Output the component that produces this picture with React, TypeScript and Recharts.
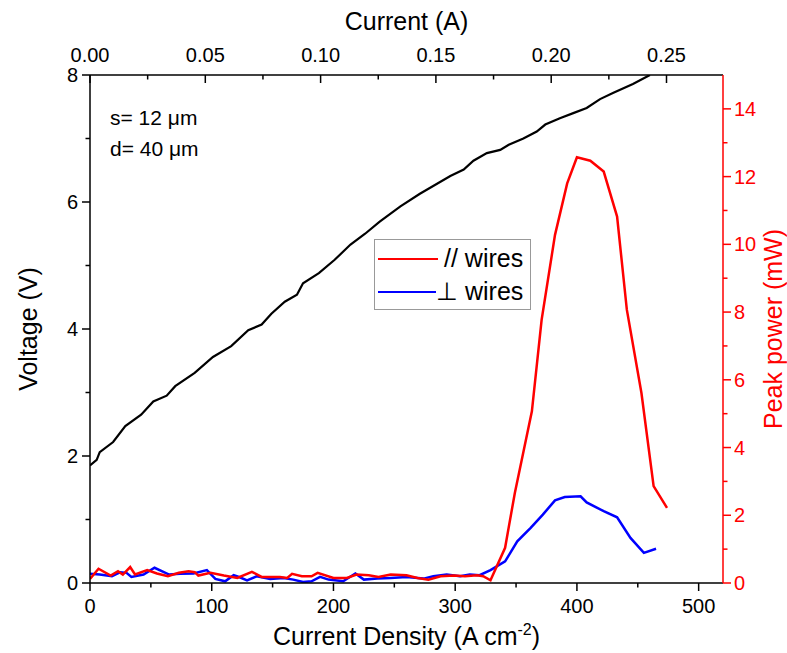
import React from 'react';
import { LineChart, Line, XAxis, YAxis, Legend } from 'recharts';

// Voltage vs current density (black, left axis)
const voltJ = [0, 5.5, 8, 19, 29, 42, 52, 63, 70, 86, 101, 116, 130, 141, 149, 160, 170, 175, 188, 201, 214, 226, 238, 255, 271, 296, 307, 315, 326, 337, 344, 356, 367, 374, 386, 397, 408, 419, 430, 446, 460];
const voltV = [1.85, 1.94, 2.06, 2.22, 2.47, 2.65, 2.86, 2.95, 3.1, 3.31, 3.56, 3.73, 3.98, 4.07, 4.24, 4.43, 4.54, 4.72, 4.88, 5.09, 5.33, 5.5, 5.69, 5.93, 6.13, 6.41, 6.51, 6.65, 6.77, 6.82, 6.9, 7.0, 7.11, 7.22, 7.32, 7.4, 7.48, 7.62, 7.72, 7.86, 8.0];

// Peak power, // wires (red, right axis)
const parJ = [0, 7, 17, 23, 27, 33, 37, 47, 55, 64, 73, 81, 86, 89, 99, 110, 121, 133, 141, 156, 162, 166, 174, 182, 187, 200, 211, 219, 229, 237, 247, 260, 269, 278, 288, 299, 308, 318, 323, 329, 341, 349, 363, 371, 382, 392, 400, 411, 422, 433, 441, 453, 463, 474];
const parP = [0.12, 0.42, 0.22, 0.35, 0.25, 0.47, 0.25, 0.38, 0.28, 0.2, 0.3, 0.35, 0.32, 0.22, 0.3, 0.22, 0.15, 0.33, 0.18, 0.18, 0.15, 0.27, 0.2, 0.2, 0.3, 0.15, 0.15, 0.25, 0.23, 0.18, 0.25, 0.23, 0.15, 0.1, 0.2, 0.22, 0.2, 0.23, 0.2, 0.08, 1.04, 2.66, 5.07, 7.77, 10.28, 11.8, 12.57, 12.47, 12.15, 10.82, 8.07, 5.61, 2.86, 2.22];

// Peak power, ⊥ wires (blue, right axis)
const perpJ = [0, 8, 18, 25, 30, 34, 44, 53, 65, 74, 85, 96, 103, 111, 118, 123, 129, 137, 148, 159, 167, 175, 182, 189, 196, 208, 218, 225, 236, 247, 260, 274, 282, 293, 304, 312, 320, 329, 341, 351, 362, 372, 382, 390, 403, 408, 422, 433, 444, 455, 465];
const perpP = [0.27, 0.25, 0.2, 0.32, 0.3, 0.18, 0.25, 0.45, 0.25, 0.27, 0.28, 0.38, 0.12, 0.05, 0.23, 0.17, 0.08, 0.2, 0.12, 0.15, 0.1, 0.03, 0.05, 0.18, 0.1, 0.05, 0.28, 0.1, 0.13, 0.15, 0.18, 0.13, 0.2, 0.25, 0.2, 0.25, 0.23, 0.38, 0.64, 1.23, 1.63, 2.02, 2.44, 2.54, 2.56, 2.38, 2.12, 1.94, 1.33, 0.89, 1.01];

const densityTicks = [0, 50, 100, 150, 200, 250, 300, 350, 400, 450, 500];
const currentTicks = [0, 0.025, 0.05, 0.075, 0.1, 0.125, 0.15, 0.175, 0.2, 0.225, 0.25];
const voltTicks = [0, 1, 2, 3, 4, 5, 6, 7, 8];
const powerTicks = [0, 1, 2, 3, 4, 5, 6, 7, 8, 9, 10, 11, 12, 13, 14];

const voltData = voltJ.map((j, i) => ({ j, v: voltV[i] }));
const parData = parJ.map((j, i) => ({ j, p: parP[i] }));
const perpData = perpJ.map((j, i) => ({ j, p: perpP[i] }));

const FONT = '"Liberation Sans", Arial, sans-serif';
const RED = '#ff0000';
const BLUE = '#0000ff';
const MAJOR = 8;
const MINOR = 4.5;
const TICK_FS = 20;
const TITLE_FS = 25;

const BottomTick = (props: any) => {
  const { x, y, payload } = props;
  const major = payload.value % 100 === 0;
  return (
    <g>
      <line x1={x} x2={x} y1={y} y2={y + (major ? MAJOR : MINOR)} stroke="#000" strokeWidth={1.5} />
      {major && <text x={x} y={y + 30} textAnchor="middle" fontSize={TICK_FS} fontFamily={FONT} fill="#000">{payload.value}</text>}
    </g>
  );
};

const TopTick = (props: any) => {
  const { x, y, payload, index } = props;
  const major = index % 2 === 0;
  return (
    <g>
      <line x1={x} x2={x} y1={y} y2={y + (major ? MAJOR : MINOR)} stroke="#000" strokeWidth={1.5} />
      {major && <text x={x} y={y - 13} textAnchor="middle" fontSize={TICK_FS} fontFamily={FONT} fill="#000">{payload.value.toFixed(2)}</text>}
    </g>
  );
};

const LeftTick = (props: any) => {
  const { x, y, payload } = props;
  const major = payload.value % 2 === 0;
  return (
    <g>
      <line x1={x - (major ? MAJOR : MINOR)} x2={x} y1={y} y2={y} stroke="#000" strokeWidth={1.5} />
      {major && <text x={x - 12} y={y + 7} textAnchor="end" fontSize={TICK_FS} fontFamily={FONT} fill="#000">{payload.value}</text>}
    </g>
  );
};

const RightTick = (props: any) => {
  const { x, y, payload } = props;
  const major = payload.value % 2 === 0;
  return (
    <g>
      <line x1={x} x2={x + (major ? MAJOR : MINOR)} y1={y} y2={y} stroke={RED} strokeWidth={1.5} />
      {major && <text x={x + 11} y={y + 7} textAnchor="start" fontSize={TICK_FS} fontFamily={FONT} fill={RED}>{payload.value}</text>}
    </g>
  );
};

const BottomTitle = (props: any) => {
  const { viewBox } = props;
  const cx = viewBox.x + viewBox.width / 2;
  return (
    <text x={cx} y={645} textAnchor="middle" fontSize={TITLE_FS} fontFamily={FONT} fill="#000">
      Current Density (A cm<tspan dy={-10} fontSize={16}>-2</tspan><tspan dy={10}>)</tspan>
    </text>
  );
};

const TopTitle = (props: any) => {
  const { viewBox } = props;
  const cx = viewBox.x + viewBox.width / 2;
  return (
    <text x={cx} y={30} textAnchor="middle" fontSize={TITLE_FS} fontFamily={FONT} fill="#000">
      Current (A)
    </text>
  );
};

const LeftTitle = (props: any) => {
  const { viewBox } = props;
  const cy = viewBox.y + viewBox.height / 2;
  return (
    <text transform={`translate(37, ${cy}) rotate(-90)`} textAnchor="middle" fontSize={TITLE_FS} fontFamily={FONT} fill="#000">
      Voltage (V)
    </text>
  );
};

const RightTitle = (props: any) => {
  const { viewBox } = props;
  const cy = viewBox.y + viewBox.height / 2;
  return (
    <text transform={`translate(782, ${cy}) rotate(-90)`} textAnchor="middle" fontSize={TITLE_FS} fontFamily={FONT} fill={RED}>
      Peak power (mW)
    </text>
  );
};

const LegendBox = () => (
  <div style={{ border: '1.5px solid #999', background: '#fff', width: 157, height: 71, boxSizing: 'border-box', padding: '2px 0 0 3px', fontFamily: FONT, fontSize: 25, whiteSpace: 'nowrap' }}>
    <div style={{ display: 'flex', alignItems: 'center', height: 33 }}>
      <div style={{ width: 60, height: 0, borderTop: `2.5px solid ${RED}`, marginRight: 6 }} />
      <span>// wires</span>
    </div>
    <div style={{ display: 'flex', alignItems: 'center', height: 33 }}>
      <div style={{ width: 58, height: 0, borderTop: `2.5px solid ${BLUE}`, marginRight: 0 }} />
      <span>⊥ wires</span>
    </div>
  </div>
);

export default function App() {
  return (
    <div style={{ position: 'absolute', left: 0, top: 0, width: 787, height: 653, background: '#fff', fontFamily: FONT }}>
      <LineChart width={787} height={653} margin={{ top: 45, right: 14, bottom: 40, left: 40 }}>
        <XAxis
          xAxisId="j" dataKey="j" type="number" orientation="bottom" height={30}
          domain={[0, 520]} ticks={densityTicks} interval={0} allowDataOverflow
          tickSize={0} tickMargin={0} tickLine={false} tick={<BottomTick />}
          axisLine={{ stroke: '#000', strokeWidth: 1.5 }}
          label={<BottomTitle />}
        />
        <XAxis
          xAxisId="i" dataKey="i" type="number" orientation="top" height={30}
          domain={[0, 0.2745]} ticks={currentTicks} interval={0} allowDataOverflow
          tickSize={0} tickMargin={0} tickLine={false} tick={<TopTick />}
          axisLine={{ stroke: '#000', strokeWidth: 1.5 }}
          label={<TopTitle />}
        />
        <YAxis
          yAxisId="v" orientation="left" width={50} type="number"
          domain={[0, 8]} ticks={voltTicks} interval={0} allowDataOverflow
          tickSize={0} tickMargin={0} tickLine={false} tick={<LeftTick />}
          axisLine={{ stroke: '#000', strokeWidth: 1.5 }}
          label={<LeftTitle />}
        />
        <YAxis
          yAxisId="p" orientation="right" width={50} type="number"
          domain={[0, 15]} ticks={powerTicks} interval={0} allowDataOverflow
          tickSize={0} tickMargin={0} tickLine={false} tick={<RightTick />}
          axisLine={{ stroke: RED, strokeWidth: 1.5 }}
          label={<RightTitle />}
        />
        <Legend
          layout="horizontal" verticalAlign="middle" align="center"
          content={() => <LegendBox />}
          wrapperStyle={{ left: 374, top: 239, width: 157, height: 71 }}
        />
        <Line data={voltData} xAxisId="j" yAxisId="v" dataKey="v" type="linear" stroke="#000" strokeWidth={2.2} dot={false} isAnimationActive={false} legendType="none" />
        <Line data={perpData} xAxisId="j" yAxisId="p" dataKey="p" type="linear" stroke={BLUE} strokeWidth={2.5} dot={false} isAnimationActive={false} />
        <Line data={parData} xAxisId="j" yAxisId="p" dataKey="p" type="linear" stroke={RED} strokeWidth={2.5} dot={false} isAnimationActive={false} />
      </LineChart>
      <div style={{ position: 'absolute', left: 110, top: 102, fontSize: 21, lineHeight: '31px', color: '#000' }}>
        <div>s= 12 μm</div>
        <div>d= 40 μm</div>
      </div>
    </div>
  );
}
